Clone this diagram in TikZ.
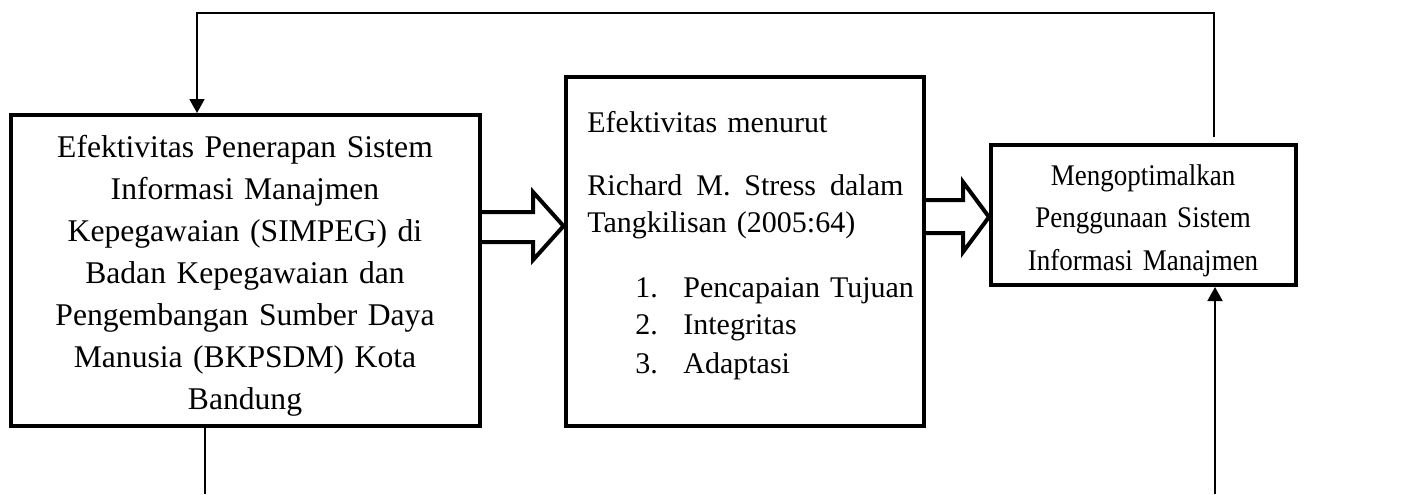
\documentclass[tikz,border=0pt]{standalone}
\usepackage{fontspec}
\setmainfont{Liberation Serif}
\newfontfamily\narrowserif[FakeStretch=0.9]{Liberation Serif}
\usetikzlibrary{arrows.meta,calc}
\tikzset{
  box/.style={draw, line width=2pt, inner sep=0pt},
  txt/.style={font=\fontsize{15pt}{21pt}\selectfont, inner sep=0pt},
  link/.style={line width=0.9pt, -{Triangle[length=7pt,width=7.5pt]}},
  bigarrow/.style={draw, line width=2pt, line join=miter},
}
\begin{document}
\begin{tikzpicture}[x=0.5pt, y=-0.5pt]
\useasboundingbox (0,0) rectangle (1401,494);
% boxes
\node[box, minimum width=234.75pt, minimum height=155.25pt] (sim) at (245.25,270.25) {};
\node[box, minimum width=179.25pt, minimum height=174.5pt] (eff) at (744.75,251.5) {};
\node[box, minimum width=152.25pt, minimum height=70pt] (opt) at (1143.25,215) {};
% texts
\node[txt, font=\fontsize{15.8pt}{21pt}\selectfont, text width=225pt, align=center, anchor=base] (simtext) at (245,157)
  {Efektivitas Penerapan Sistem\\ Informasi Manajmen\\ Kepegawaian (SIMPEG) di\\
   Badan Kepegawaian dan\\ Pengembangan Sumber Daya\\ Manusia (BKPSDM) Kota\\ Bandung};
\node[txt, font=\fontsize{15pt}{18.5pt}\selectfont, text width=175pt, align=left, anchor=base west] (efftext) at (587,132)
  {Efektivitas menurut\\[13pt]
   \makebox[158pt][s]{Richard\hfill M.\hfill Stress\hfill dalam}\\
   Tangkilisan (2005:64)\\[14pt]
   \hspace*{24pt}\makebox[24pt][l]{1.}Pencapaian Tujuan\\
   \hspace*{24pt}\makebox[24pt][l]{2.}Integritas\\[1pt]
   \hspace*{24pt}\makebox[24pt][l]{3.}Adaptasi};
\node[txt, font=\narrowserif\fontsize{15pt}{21.25pt}\selectfont, text width=150pt, align=center, anchor=base] (opttext) at (1143,185)
  {Mengoptimalkan\\ Penggunaan Sistem\\ Informasi Manajmen};
% block arrows
\draw[bigarrow] (sim.east |- 0,212) -- (533,212) -- (533,192) -- (eff.west |- 0,226)
  -- (533,260) -- (533,242) -- (sim.east |- 0,242);
\draw[bigarrow] (eff.east |- 0,200) -- (963,200) -- (963,182) -- (opt.west |- 0,217)
  -- (963,252) -- (963,233) -- (eff.east |- 0,233);
% feedback loop
\coordinate (topR) at (1214,13);
\coordinate (topL) at (197,13);
\draw[link] ($(opt.north -| topR)+(0,-6)$) -- (topR) -- (topL) -- (sim.north -| topL);
% open ends
\coordinate (botL) at (205,494);
\coordinate (botR) at (1215,494);
\draw[line width=1pt] (sim.south -| botL) -- (botL);
\draw[link] (botR) -- (opt.south -| botR);
\end{tikzpicture}
\end{document}
